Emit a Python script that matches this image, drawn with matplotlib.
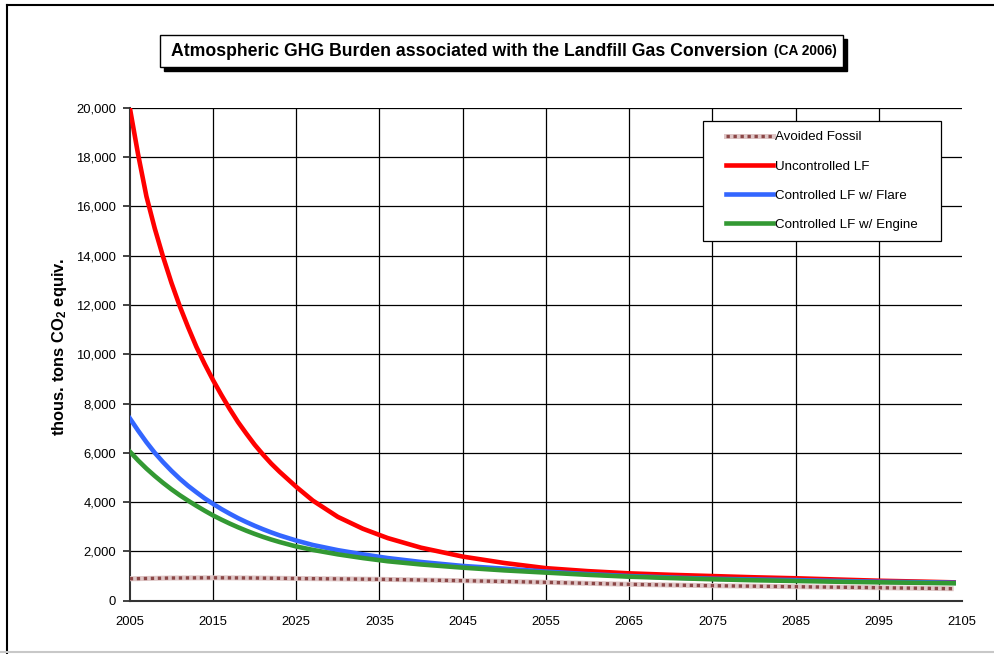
import matplotlib
matplotlib.use("Agg")
import matplotlib.pyplot as plt
from matplotlib.patches import Rectangle
from matplotlib.lines import Line2D
from matplotlib.ticker import FuncFormatter

plt.rcParams['font.family'] = ['Liberation Sans', 'DejaVu Sans']
plt.rcParams['mathtext.default'] = 'regular'

years = [2005, 2006, 2007, 2008, 2009, 2010, 2011, 2012, 2013, 2014, 2015, 2016, 2017,
         2018, 2019, 2020, 2021, 2022, 2023, 2025, 2027, 2030, 2033, 2036, 2040, 2045,
         2050, 2055, 2060, 2065, 2070, 2075, 2080, 2085, 2090, 2095, 2100, 2104]

uncontrolled = [20000, 18100, 16400, 15100, 13950, 12900, 11950, 11100, 10300, 9600, 8950,
                8350, 7780, 7250, 6780, 6330, 5930, 5560, 5230, 4620, 4060, 3400, 2920,
                2540, 2150, 1790, 1530, 1320, 1200, 1110, 1050, 1000, 950, 910, 860, 810,
                775, 745]

flare = [7400, 6900, 6430, 6000, 5620, 5270, 4950, 4660, 4400, 4150, 3930, 3720, 3530,
         3350, 3190, 3040, 2900, 2770, 2650, 2440, 2260, 2050, 1880, 1730, 1570, 1410,
         1300, 1180, 1080, 1000, 940, 890, 860, 835, 800, 770, 750, 730]

engine = [6050, 5690, 5360, 5060, 4780, 4520, 4280, 4060, 3850, 3650, 3460, 3290, 3130,
          2980, 2840, 2710, 2590, 2480, 2380, 2200, 2060, 1880, 1730, 1600, 1470, 1340,
          1230, 1140, 1050, 975, 920, 870, 830, 800, 770, 745, 725, 706]

fossil_years = [2005, 2010, 2015, 2020, 2025, 2030, 2035, 2040, 2045, 2050, 2055, 2060,
                2065, 2070, 2075, 2080, 2085, 2090, 2095, 2100, 2104]
avoided_fossil = [890, 920, 930, 920, 900, 885, 868, 840, 811, 780, 746, 705, 665, 635,
                  609, 588, 568, 548, 527, 505, 487]

x_ticks = list(range(2005, 2106, 10))
y_ticks = list(range(0, 20001, 2000))

title_main = "Atmospheric GHG Burden associated with the Landfill Gas Conversion"
title_sub = "(CA 2006)"
y_label = "thous. tons CO$_2$ equiv."
labels = ["Avoided Fossil", "Uncontrolled LF", "Controlled LF w/ Flare", "Controlled LF w/ Engine"]

W, H = 995, 654
fig = plt.figure(figsize=(W / 100, H / 100), dpi=100)
ax = fig.add_axes([129.8 / W, 1 - 600.7 / H, (962 - 129.8) / W, (600.7 - 107.7) / H])

FOSSIL_LIGHT = '#dfc6c6'
FOSSIL_DARK = '#8b4747'
LW = 3.3

ax.plot(fossil_years, avoided_fossil, color=FOSSIL_LIGHT, lw=3.6, solid_capstyle='butt', zorder=3)
ax.plot(fossil_years, avoided_fossil, color=FOSSIL_DARK, lw=2.4, linestyle=(0, (1, 1.1)), zorder=3)
ax.plot(years, uncontrolled, color='#ff0000', lw=LW, zorder=4)
ax.plot(years, flare, color='#3366ff', lw=LW, zorder=4)
ax.plot(years, engine, color='#339933', lw=LW, zorder=5)

ax.set_xlim(2005, 2105)
ax.set_ylim(0, 20000)
ax.set_xticks(x_ticks)
ax.set_yticks(y_ticks)
ax.yaxis.set_major_formatter(FuncFormatter(lambda v, p: f"{int(v):,}"))
ax.tick_params(axis='x', length=0, pad=11, labelsize=9.4)
ax.tick_params(axis='y', length=5, width=1.2, direction='out', pad=5, labelsize=9.4, color='#222222')
ax.grid(True, color='black', lw=0.9)
ax.get_xgridlines()[-1].set_visible(False)
ax.get_xgridlines()[0].set_visible(False)
ax.get_ygridlines()[0].set_visible(False)
ax.set_axisbelow(True)
for s in ['top', 'right']:
    ax.spines[s].set_visible(False)
for s in ['left', 'bottom']:
    ax.spines[s].set_color('#333333')
    ax.spines[s].set_linewidth(1.5)

ax.set_ylabel(y_label, fontsize=11.9, fontweight='bold', labelpad=5)
ax.yaxis.label.set_y((600.7 - 346.5) / 493.0)

# Legend (frame drawn separately)
handles = [
    (Line2D([], [], color=FOSSIL_LIGHT, lw=3.6), Line2D([], [], color=FOSSIL_DARK, lw=2.4, linestyle=(0, (1, 1.1)))),
    Line2D([], [], color='#ff0000', lw=LW),
    Line2D([], [], color='#3366ff', lw=LW),
    Line2D([], [], color='#339933', lw=LW),
]
fig.patches.append(Rectangle((703 / W, 1 - 241 / H), (941 - 703) / W, (241 - 121) / H,
                             transform=fig.transFigure, facecolor='white', edgecolor='black',
                             lw=0.9, zorder=9))
leg = fig.legend(handles, labels, loc='upper left', bbox_to_anchor=(726 / W, 1 - 131 / H),
                 bbox_transform=fig.transFigure, fontsize=9.6, frameon=False,
                 handlelength=3.54, handletextpad=0.1, labelspacing=1.27, borderpad=0,
                 borderaxespad=0)
leg.set_zorder(10)

# Title box with shadow
bx0, by0, bx1, by1 = 160, 35, 843, 67
fig.patches.append(Rectangle(((bx0 + 4) / W, 1 - (by1 + 4) / H), (bx1 - bx0) / W, (by1 - by0) / H,
                             transform=fig.transFigure, facecolor='black', edgecolor='black'))
fig.patches.append(Rectangle((bx0 / W, 1 - by1 / H), (bx1 - bx0) / W, (by1 - by0) / H,
                             transform=fig.transFigure, facecolor='white', edgecolor='black', lw=1.0))
t1 = fig.text(171 / W, 1 - 51 / H, title_main, fontsize=12.7, fontweight='bold', va='center', ha='left')
fig.canvas.draw()
bb = t1.get_window_extent()
fig.text((bb.x1 + 6) / W, 1 - 51.5 / H, title_sub, fontsize=9.9, fontweight='bold', va='center', ha='left')

# Outer border
fig.add_artist(Line2D([7 / W, 7 / W], [0, 1 - 5 / H], transform=fig.transFigure, color='black', lw=1.5))
fig.add_artist(Line2D([7 / W, 1], [1 - 5 / H, 1 - 5 / H], transform=fig.transFigure, color='black', lw=1.5))
fig.add_artist(Line2D([0, 1], [1 - 651.5 / H, 1 - 651.5 / H], transform=fig.transFigure, color='#c8c8c8', lw=1.5))

fig.savefig("out.png", dpi=100)
